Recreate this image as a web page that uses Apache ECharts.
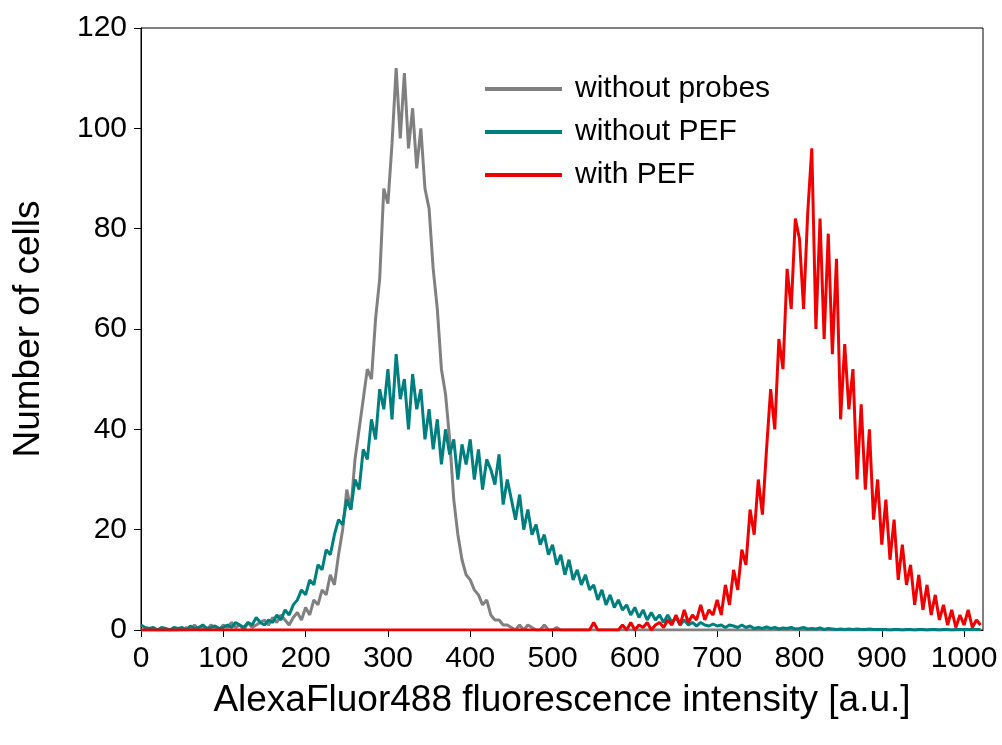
<!DOCTYPE html>
<html><head><meta charset="utf-8">
<script src="https://cdn.jsdelivr.net/npm/echarts@6/dist/echarts.min.js"></script>
<style>html,body{margin:0;padding:0;background:#fff}#c{width:1002px;height:745px}</style>
</head><body><div id="c"></div>
<script>
// Intensity bins (a.u.), step 5
const xStep = 5;
const seriesNames = ['without probes', 'without PEF', 'with PEF'];
const xTicks = [0,100,200,300,400,500,600,700,800,900,1000];
const yTicks = [0,20,40,60,80,100,120];

const withoutProbes = [
 0,0,0,0,0,0,0,0,0,0,
 0,0.5,0,1,0,0.5,0,1,0.5,0,
 1,0.5,1.5,0.5,1,0,1.5,0.5,1,1.5,
 2,1,2.5,1.5,3,2,1,2.5,3.5,2,
 4.5,3,6,5,8,7,11,9,15,20,
 28,24,34,40,46,52,50,62,70,88,
 85,97,112,98,111,96,104,92,100,88,
 84,72,64,52,47,38,26,19,14,11,
 10,8,7,5,6,3,2,2,1,1,
 0.5,0,1,0,1,0.5,0,0,1,0,
 0,0.5,0,0,0,0,0,0,0,0,
 0,0,0,0,0,0,0,0,0,0,
 0,0,0,0,0,0,0,0,0,0,
 0,0,0,0,0,0,0,0,0,0,
 0,0,0,0,0,0,0,0,0,0,
 0,0,0,0,0,0,0,0,0,0,
 0,0,0,0,0,0,0,0,0,0,
 0,0,0,0,0,0,0,0,0,0,
 0,0,0,0,0,0,0,0,0,0,
 0,0,0,0,0,0,0,0,0,0,
 0,0,0,0,0
];

const withoutPEF = [
 1,0.5,0.3,0.5,0,0.5,0.3,0,0.5,0.3,
 0.5,0,0.8,0.3,0.5,1,0.3,0.5,0.8,0.3,
 0.5,1,0.5,1.5,1,0.5,1.5,1,2.5,1.5,
 1,2,1.5,3,2,4,3,5,6,8,
 7,10,9,13,12,16,15,19,22,21,
 26,24,30,28,36,34,42,38,48,44,
 52,42,55,46,50,40,51,44,48,38,
 44,36,42,33,40,35,38,30,37,33,
 38,30,36,28,34,32,29,35,25,30,
 26,22,27,20,24,19,21,17,19,15,
 17,13,15,11,14,10,12,9,11,8,
 9,6,8,5,7,4.5,6,4,5,3,
 4.5,2.5,4,2,3.5,2,3,1.5,3,1.5,
 2.5,1,2,1,1.5,0.8,1.5,1,0.8,1.2,
 0.8,1,0.5,1,0.8,0.5,1,0.5,0.8,0.3,
 0.5,0.3,0.6,0.3,0.5,0.2,0.4,0.3,0.5,0.2,
 0.3,0.5,0.2,0.3,0.2,0.4,0.1,0.3,0.2,0.1,
 0.2,0.1,0.2,0.1,0.2,0.1,0.1,0.2,0.1,0.1,
 0.1,0.1,0,0.1,0.1,0,0.1,0.1,0,0.1,
 0.1,0,0.1,0.1,0,0.1,0.1,0,0.1,0.1,
 0.1,0.1,0.1,0.1,0.1
];

const withPEF = [
 0,0,0,0,0,0,0,0,0,0,
 0,0,0,0,0,0,0,0,0,0,
 0,0,0,0,0,0,0,0,0,0,
 0,0,0,0,0,0,0,0,0,0,
 0,0,0,0,0,0,0,0,0,0,
 0,0,0,0,0,0,0,0,0,0,
 0,0,0,0,0,0,0,0,0,0,
 0,0,0,0,0,0,0,0,0,0,
 0,0,0,0,0,0,0,0,0,0,
 0,0,0,0,0,0,0,0,0,0,
 0,0,0,0,0,0,0,0,0,0,
 1.5,0,0,0,0,0,0,1,0,1.5,
 0,1,0.5,1.5,0,1,1.5,0.5,2,1,
 3,1,4,1.5,3,2,5,2,4,3,
 6,3,9,5,12,8,16,13,24,19,
 30,23,36,48,40,58,52,72,64,82,
 78,64,83,96,60,82,58,79,55,74,
 42,57,44,52,30,45,28,40,22,30,
 17,26,14,22,10,17,9,13,5,11,
 4,9,3,7,2,5,1,4,0.5,3,
 1,4,0.5,2,1
];

function pairs(arr){ return arr.map((v,i)=>[i*xStep, v]); }

const FONT = 'Liberation Sans';
const chart = echarts.init(document.getElementById('c'), null, {renderer:'canvas'});
chart.setOption({
  animation:false,
  backgroundColor:'#fff',
  grid:{left:141, right:19, top:28, bottom:115, show:true, borderColor:'#000', borderWidth:1},
  legend:{
    data:seriesNames, orient:'vertical', left:480, top:69, itemWidth:77, itemHeight:4, itemGap:13,
    icon:'rect',
    textStyle:{fontFamily:FONT, fontSize:30, color:'#000', padding:[0,0,0,8]},
    selectedMode:false
  },
  xAxis:{
    type:'value', min:0, max:1023, interval:100,
    name:'AlexaFluor488 fluorescence intensity [a.u.]', nameLocation:'middle', nameGap:52,
    nameTextStyle:{fontFamily:FONT, fontSize:37, color:'#000'},
    axisLine:{show:true, onZero:false, lineStyle:{color:'#000', width:1}},
    axisTick:{show:true, inside:false, length:7, lineStyle:{color:'#000'}},
    axisLabel:{fontFamily:FONT, fontSize:30, color:'#000', margin:14, showMaxLabel:false,
      formatter:v=> xTicks.indexOf(v)>=0 ? String(v) : ''},
    splitLine:{show:false}
  },
  yAxis:{
    type:'value', min:0, max:120, interval:20,
    name:'Number of cells', nameLocation:'middle', nameGap:94, nameRotate:90,
    nameTextStyle:{fontFamily:FONT, fontSize:37, color:'#000'},
    axisLine:{show:true, lineStyle:{color:'#000', width:1}},
    axisTick:{show:true, inside:false, length:7, lineStyle:{color:'#000'}},
    axisLabel:{fontFamily:FONT, fontSize:30, color:'#000', margin:14,
      formatter:v=> yTicks.indexOf(v)>=0 ? String(v) : ''},
    splitLine:{show:false}
  },
  series:[
    {name:seriesNames[0], type:'line', data:pairs(withoutProbes), showSymbol:false, symbol:'none',
     lineStyle:{color:'#808080', width:3}, itemStyle:{color:'#808080'}},
    {name:seriesNames[1], type:'line', data:pairs(withoutPEF), showSymbol:false, symbol:'none',
     lineStyle:{color:'#007f7f', width:3}, itemStyle:{color:'#007f7f'}},
    {name:seriesNames[2], type:'line', data:pairs(withPEF), showSymbol:false, symbol:'none',
     lineStyle:{color:'#f00000', width:3}, itemStyle:{color:'#f00000'}}
  ]
});
</script></body></html>
